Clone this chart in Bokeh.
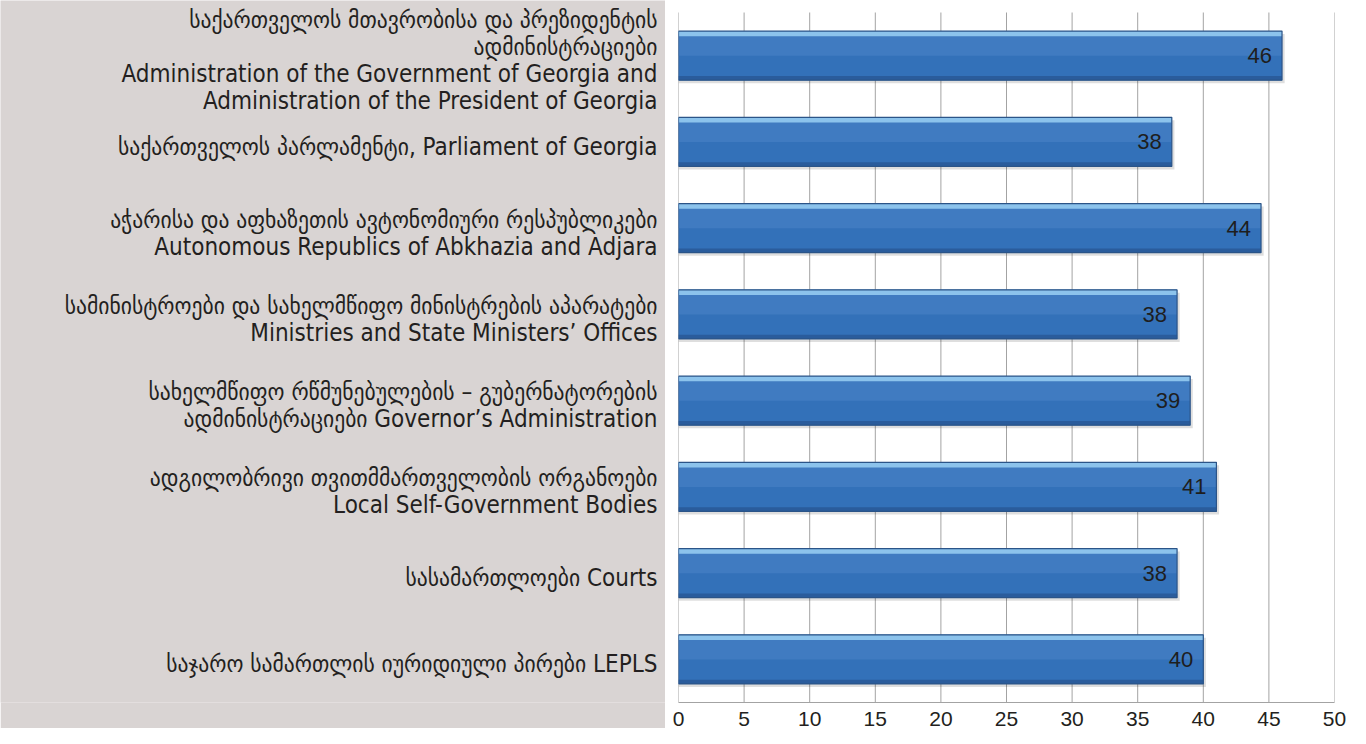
from bokeh.plotting import figure
from bokeh.layouts import row
from bokeh.models import Range1d, FixedTicker, ColumnDataSource
from bokeh.core.properties import value
from bokeh.embed import file_html
from bokeh.resources import INLINE

categories = [
    "საქართველოს მთავრობისა და პრეზიდენტის\nადმინისტრაციები\nAdministration of the Government of Georgia and\nAdministration of the President of Georgia",
    "საქართველოს პარლამენტი, Parliament of Georgia",
    "აჭარისა და აფხაზეთის ავტონომიური რესპუბლიკები\nAutonomous Republics of Abkhazia and Adjara",
    "სამინისტროები და სახელმწიფო მინისტრების აპარატები\nMinistries and State Ministers’ Offices",
    "სახელმწიფო რწმუნებულების – გუბერნატორების\nადმინისტრაციები Governor’s Administration",
    "ადგილობრივი თვითმმართველობის ორგანოები\nLocal Self-Government Bodies",
    "სასამართლოები Courts",
    "საჯარო სამართლის იურიდიული პირები LEPLS",
]
values = [46.0, 37.6, 44.4, 38.0, 39.0, 41.0, 38.0, 40.0]
x_ticks = [0, 5, 10, 15, 20, 25, 30, 35, 40, 45, 50]

LABEL_FONT = "DejaVu Sans Condensed"
NUM_FONT = "Liberation Sans"
GRAY = "#d9d4d3"
GRID = "#a3a3a3"
BAR_H = 0.57

n = len(categories)
ypos = list(range(1, n + 1))

TOP = 12          # white gap above the gridlines
PLOT_H = 690      # height of the category band area
BOTTOM = 26
FRAME_H = TOP + PLOT_H
px_per_unit = PLOT_H / n

# frames start at the very top so the first label is not clipped
y_range = Range1d(n + 0.5, 0.5 - TOP / px_per_unit)

src = ColumnDataSource(dict(
    y=ypos,
    v=values,
    lab=[str(int(round(v))) for v in values],
    cat=categories,
    y_shadow=[y + 0.035 for y in ypos],
    v_shadow=[v + 0.2 for v in values],
    y_upper=[y - BAR_H / 4 for y in ypos],
    y_top=[y - BAR_H / 2 + 0.03 for y in ypos],
    y_bot=[y + BAR_H / 2 - 0.025 for y in ypos],
    lx=[657] * n,
))
grid_src = ColumnDataSource(dict(
    x=x_ticks,
    y0=[0.5] * len(x_ticks),
    y1=[n + 0.5] * len(x_ticks),
))

# ---- left label panel ----
left = figure(frame_width=665, frame_height=FRAME_H,
              x_range=Range1d(0, 665), y_range=y_range,
              min_border_left=0, min_border_right=0,
              min_border_top=0, min_border_bottom=BOTTOM,
              toolbar_location=None, output_backend="svg",
              x_axis_location=None, y_axis_location=None)
left.background_fill_color = GRAY
left.border_fill_color = GRAY
left.outline_line_color = None
left.xgrid.visible = False
left.ygrid.visible = False
left.text(x="lx", y="y", text="cat", source=src, y_offset=5,
          text_align="right", text_baseline="middle",
          text_font=value(LABEL_FONT), text_font_size="24px",
          text_line_height=0.97, text_color="#231f20")

# ---- bar chart ----
p = figure(frame_width=656, frame_height=FRAME_H,
           x_range=Range1d(0, 50), y_range=y_range,
           min_border_left=13, min_border_right=16,
           min_border_top=0, min_border_bottom=BOTTOM,
           toolbar_location=None, output_backend="svg",
           y_axis_location=None)
p.background_fill_color = "white"
p.border_fill_color = "white"
p.outline_line_color = None
p.ygrid.visible = False
p.xgrid.visible = False
p.segment(x0="x", y0="y0", x1="x", y1="y1", source=grid_src,
          line_color=GRID, line_width=1)
p.xaxis.ticker = FixedTicker(ticks=x_ticks)
p.xaxis.axis_line_color = GRID
p.xaxis.major_tick_line_color = None
p.xaxis.minor_tick_line_color = None
p.xaxis.major_label_standoff = 3
p.xaxis.major_label_text_font = NUM_FONT
p.xaxis.major_label_text_font_size = "21px"
p.xaxis.major_label_text_color = "#231f20"

# shadow
p.hbar(y="y_shadow", left=0, right="v_shadow", height=BAR_H, source=src,
       fill_color="black", fill_alpha=0.13, line_color=None)
# base bar
p.hbar(y="y", left=0, right="v", height=BAR_H, source=src,
       fill_color="#3371b9", line_color=None)
# lighter upper half
p.hbar(y="y_upper", left=0, right="v", height=BAR_H / 2, source=src,
       fill_color="#4680c5", fill_alpha=0.7, line_color=None)
# top highlight
p.hbar(y="y_top", left=0, right="v", height=0.06, source=src,
       fill_color="#8cc3ec", line_color=None)
# bottom dark edge
p.hbar(y="y_bot", left=0, right="v", height=0.05, source=src,
       fill_color="#2a5c9c", line_color=None)
# outline
p.hbar(y="y", left=0, right="v", height=BAR_H, source=src,
       fill_color=None, line_color="#2b5488", line_width=1.2)

p.text(x="v", y="y", text="lab", source=src, x_offset=-10,
       text_align="right", text_baseline="middle",
       text_font=value(NUM_FONT), text_font_size="22px",
       text_color="#1e1e1e")

layout = row(left, p)
open("out.html", "w").write(file_html(layout, INLINE))
